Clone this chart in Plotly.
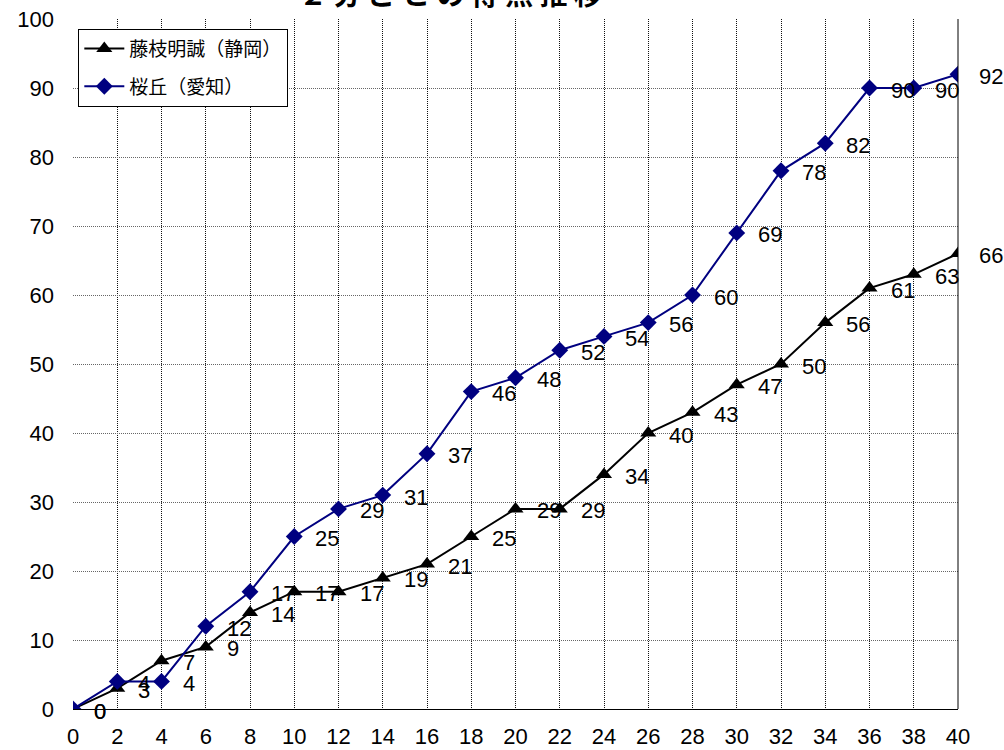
import plotly.graph_objects as go

# 2分ごとの累計得点
minutes = [0, 2, 4, 6, 8, 10, 12, 14, 16, 18, 20, 22, 24, 26, 28, 30, 32, 34, 36, 38, 40]
fujieda = [0, 3, 7, 9, 14, 17, 17, 19, 21, 25, 29, 29, 34, 40, 43, 47, 50, 56, 61, 63, 66]
sakuragaoka = [0, 4, 4, 12, 17, 25, 29, 31, 37, 46, 48, 52, 54, 56, 60, 69, 78, 82, 90, 90, 92]

name_fujieda = "藤枝明誠（静岡）"
name_sakura = "桜丘（愛知）"
title_text = "２ 分 ご と の 得 点 推 移"

y_ticks = [0, 10, 20, 30, 40, 50, 60, 70, 80, 90, 100]

NAVY = "#000080"
NUM_FONT = "Liberation Sans, Arial, sans-serif"
JP_FONT = "Noto Sans CJK JP, sans-serif"

fig = go.Figure()

fig.add_trace(go.Scatter(
    x=minutes, y=fujieda, name=name_fujieda, mode="lines+markers",
    line=dict(color="black", width=2),
    marker=dict(symbol="triangle-up", size=14, color="black"),
    legendgroup="a",
))
fig.add_trace(go.Scatter(
    x=minutes, y=sakuragaoka, name=name_sakura, mode="lines+markers",
    line=dict(color=NAVY, width=2),
    marker=dict(symbol="diamond", size=13, color=NAVY),
    legendgroup="b",
))

# 各点の右側に得点ラベル
annotations = []
for series in (fujieda, sakuragaoka):
    for xv, yv in zip(minutes, series):
        annotations.append(dict(
            x=xv, y=yv, xref="x", yref="y", text=str(yv),
            showarrow=False, xanchor="left", yanchor="middle",
            xshift=19, yshift=-2,
            font=dict(family=NUM_FONT, size=22, color="black"),
        ))

# グラフタイトル（上端）
annotations.append(dict(
    x=0.426, y=1.038, xref="paper", yref="paper", text=title_text,
    showarrow=False, xanchor="center", yanchor="middle",
    font=dict(family=JP_FONT, size=28, color="black", weight="bold"),
))

fig.update_layout(
    width=1004, height=750,
    margin=dict(l=73, r=46, t=19, b=41),
    paper_bgcolor="white", plot_bgcolor="white",
    showlegend=True,
    legend=dict(
        x=0.006, y=0.986, xanchor="left", yanchor="top",
        bgcolor="white", bordercolor="black", borderwidth=1,
        font=dict(family=JP_FONT, size=19, color="black"),
        traceorder="grouped", tracegroupgap=10,
        itemwidth=40,
    ),
    annotations=annotations,
    shapes=[dict(type="line", xref="paper", yref="paper",
                 x0=1, x1=1, y0=0, y1=1,
                 line=dict(color="black", width=1))],
)

fig.update_xaxes(
    range=[0, 40], tickmode="array", tickvals=minutes,
    ticktext=[str(m) for m in minutes],
    showgrid=True, gridcolor="#111", griddash="1px,1px", gridwidth=1,
    showline=True, linecolor="black", linewidth=1,
    zeroline=False, ticks="", ticklabelstandoff=8, automargin=False,
    tickfont=dict(family=NUM_FONT, size=22, color="black"),
)
fig.update_yaxes(
    range=[0, 100], tickmode="array", tickvals=y_ticks,
    ticktext=[str(v) for v in y_ticks],
    showgrid=True, gridcolor="#666", griddash="1px,1px", gridwidth=1,
    showline=False, zeroline=False, ticks="", ticklabelstandoff=18,
    automargin=False,
    tickfont=dict(family=NUM_FONT, size=22, color="black"),
)

fig.write_html("out.html")
